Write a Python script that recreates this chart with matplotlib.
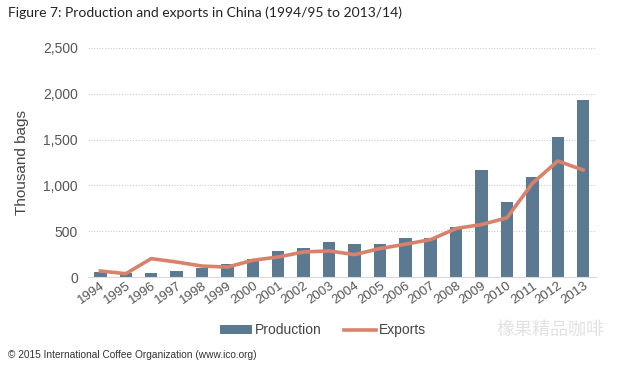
import numpy as np
import matplotlib.pyplot as plt

years = ['1994', '1995', '1996', '1997', '1998', '1999', '2000', '2001', '2002', '2003',
         '2004', '2005', '2006', '2007', '2008', '2009', '2010', '2011', '2012', '2013']
production = [55, 40, 48, 62, 99, 139, 194, 285, 318, 383,
              358, 361, 424, 431, 551, 1168, 821, 1088, 1529, 1937]
exports = [66, 37, 201, 164, 120, 109, 183, 219, 274, 285,
           245, 311, 358, 409, 530, 573, 646, 1022, 1266, 1168]

bar_color = '#5b7a91'
line_color = '#d9826b'
grey = '#555555'

plt.rcParams['font.family'] = 'Liberation Sans'

fig = plt.figure(figsize=(6.4, 3.66), dpi=100)
ax = fig.add_axes([0.137, 0.243, 0.794, 0.626])

x = np.arange(len(years))
bars = ax.bar(x, production, width=0.49, color=bar_color, label='Production', zorder=2)
line, = ax.plot(x, exports, color=line_color, lw=2.6, label='Exports', zorder=3,
                solid_joinstyle='round')

ax.set_xlim(-0.5, len(years) - 0.5)
ax.set_ylim(0, 2500)
ax.set_yticks(range(0, 2501, 500))
ax.set_yticklabels([f'{v:,}' for v in range(0, 2501, 500)])
ax.yaxis.grid(True, linestyle=(0, (1, 1.5)), color='#cccccc', lw=0.8, zorder=0)
ax.set_axisbelow(True)
for s in ['top', 'right', 'left']:
    ax.spines[s].set_visible(False)
ax.spines['bottom'].set_color('#d9d9d9')
ax.tick_params(axis='y', length=0, labelsize=10, labelcolor=grey, pad=7)
ax.tick_params(axis='x', length=0, labelsize=9.5, labelcolor=grey, pad=2)
ax.set_xticks(x)
ax.set_xticklabels(years, rotation=35, ha='right', rotation_mode='anchor')
ax.set_ylabel('Thousand bags', fontsize=11, color='#444444', labelpad=10)

fig.text(0.012, 0.965, 'Figure 7: Production and exports in China (1994/95 to 2013/14)',
         fontsize=10, family='Lato', color='#222222', va='center')
fig.legend([bars, line], ['Production', 'Exports'], loc='center',
           bbox_to_anchor=(0.505, 0.097), ncol=2, frameon=False,
           fontsize=10, handlelength=2.3, handletextpad=0.2, columnspacing=1.6,
           labelcolor='#444444')
fig.text(0.012, 0.03, '\u00a9 2015 International Coffee Organization (www.ico.org)',
         fontsize=7.3, color='#333333', va='center')
fig.text(0.775, 0.097, '橡果精品咖啡', fontsize=13, color='#e2e2e2', va='center',
         family=['Noto Sans CJK SC', 'DejaVu Sans'])

fig.savefig('out.png', dpi=100)
